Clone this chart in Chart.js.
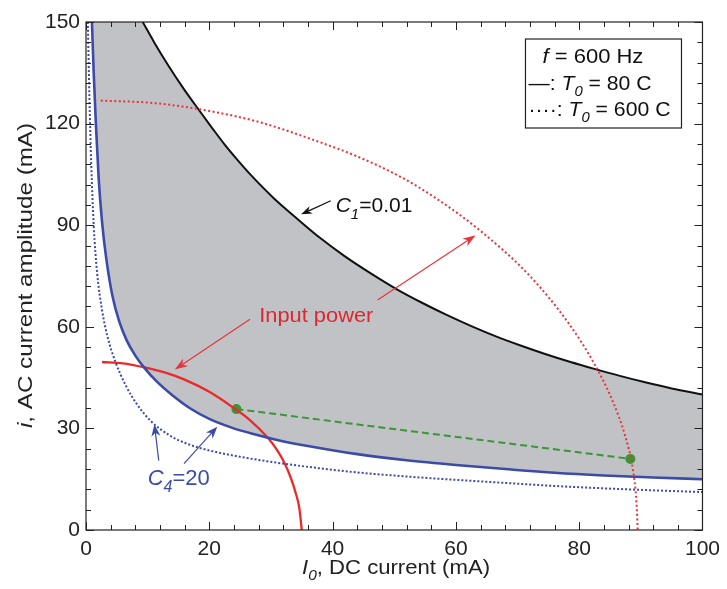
<!DOCTYPE html>
<html>
<head>
<meta charset="utf-8">
<script src="https://cdn.jsdelivr.net/npm/chart.js@4.4.1/dist/chart.umd.min.js"></script>
<style>
  html, body { margin: 0; padding: 0; background: #fff; }
  #wrap { width: 727px; height: 589px; }
</style>
</head>
<body>
<div id="wrap"><canvas id="c" width="727" height="589"></canvas></div>
<script>
// ---- data (x = I0 in mA, y = i in mA) ----
const xTicks = [0, 20, 40, 60, 80, 100];
const yTicks = [0, 30, 60, 90, 120, 150];

// C1 = 0.01 boundary, T0 = 80 C (black solid)
const c1T80 = [[9.2,150],[11,144.2],[13.3,137.3],[15.8,130.4],[18.2,124.3],[20.5,118.6],[22.5,113.8],[24.7,109],[26.8,104.7],[30.5,97.9],[34.2,92],[38,86.2],[42,80.8],[46,76],[50.5,71],[54.5,67.1],[58.5,63.5],[62.5,60.2],[66.6,57.1],[70.6,54.4],[74.6,51.9],[78.6,49.6],[82.6,47.5],[86.6,45.5],[90.7,43.6],[95,41.8],[100,40]];
// C4 = 20 boundary, T0 = 80 C (blue solid)
const c4T80 = [[0.96,150],[1.25,135],[1.6,120],[2.05,104],[2.6,91],[3.3,80],[4.3,69],[5.4,61.5],[6.6,56],[8,51.5],[9.5,47.8],[11.5,43.8],[14,39.8],[17,35.8],[20,32.8],[23.5,30.3],[27,28.4],[31,26.6],[36,24.8],[44,22.4],[52,20.6],[60,19.2],[68,18],[76,16.9],[84,16.1],[92,15.5],[100,15]];
// C4 = 20 boundary, T0 = 600 C (blue dotted)
const c4T600 = [[0.3,150],[0.55,128],[0.85,108],[1.25,90],[1.8,76],[2.6,65],[3.5,57],[4.8,49.5],[6.5,42.5],[8.2,37.3],[10.5,32.2],[13.5,28],[16.5,25.4],[20,23.5],[26,21.3],[32,19.6],[38,18.2],[44,17],[52,15.8],[60,14.8],[68,13.9],[76,13],[88,12],[100,11.2]];
// input power, low (red solid)
const powerLow = [[2.6,49.6],[6,49.2],[9.5,48],[13,46.4],[16,44.4],[20,40.8],[23.6,36.5],[26.5,32.6],[29.6,27],[31,23.6],[32.2,19.8],[33.2,15.5],[34,11],[34.6,6.5],[35,0]];
// input power, high (red dotted)
const powerHigh = [[2.4,126.8],[10.8,126.1],[18.2,124.3],[27.8,120.6],[37.5,114.8],[44,110.3],[51,104.3],[56.9,97.8],[63.8,88.6],[71.9,75.2],[78.3,61],[82.6,48.6],[85.4,38.2],[87.5,27.5],[88.7,18],[89.3,8],[89.5,0]];
// operating path (green dashed)
const opPath = [[24.4,35.7],[88.3,21]];

const FONT = "'Liberation Sans', Arial, Helvetica, sans-serif";
const pts = a => a.map(([x, y]) => ({ x, y }));

// shaded region: along blue curve, then back along black curve to the top edge
const region = pts(c4T80).concat(pts(c1T80.slice().reverse())).concat([{ x: c4T80[0][0], y: 150 }]);

function richWidth(ctx, parts, size) {
    let w = 0;
    parts.forEach(p => {
        const s = p.sub ? Math.round(size * 0.72) : size;
        ctx.font = (p.it ? 'italic ' : '') + s + 'px ' + FONT;
        w += ctx.measureText(p.t).width;
    });
    return w;
}
// draws text parts (italic / subscript) starting at x, stretched sideways by sx
function rich(ctx, parts, x, y, size, sx = 1) {
    ctx.save();
    ctx.translate(x, y);
    ctx.scale(sx, 1);
    let cx = 0;
    parts.forEach(p => {
        const s = p.sub ? Math.round(size * 0.72) : size;
        ctx.font = (p.it ? 'italic ' : '') + s + 'px ' + FONT;
        ctx.fillText(p.t, cx, p.sub ? size * 0.32 : 0);
        cx += ctx.measureText(p.t).width;
    });
    ctx.restore();
}
function arrow(ctx, x1, y1, x2, y2, color, lw, hl, hw) {
    const a = Math.atan2(y2 - y1, x2 - x1), c = Math.cos(a), s = Math.sin(a);
    ctx.strokeStyle = color; ctx.fillStyle = color; ctx.lineWidth = lw;
    ctx.beginPath();
    ctx.moveTo(x1, y1);
    ctx.lineTo(x2 - c * hl * 0.7, y2 - s * hl * 0.7);
    ctx.stroke();
    ctx.beginPath();
    ctx.moveTo(x2, y2);
    ctx.lineTo(x2 - c * hl - s * hw, y2 - s * hl + c * hw);
    ctx.lineTo(x2 - c * hl * 0.7, y2 - s * hl * 0.7);
    ctx.lineTo(x2 - c * hl + s * hw, y2 - s * hl - c * hw);
    ctx.closePath();
    ctx.fill();
}

const decor = {
    id: 'decor',
    afterDraw(chart) {
        const ctx = chart.ctx, ca = chart.chartArea;
        const X = chart.scales.x, Y = chart.scales.y;
        const px = v => X.getPixelForValue(v), py = v => Y.getPixelForValue(v);
        ctx.save();

        // frame
        ctx.strokeStyle = '#222'; ctx.lineWidth = 1.2;
        ctx.strokeRect(ca.left, ca.top, ca.right - ca.left, ca.bottom - ca.top);

        // inward ticks on all four sides
        ctx.beginPath();
        for (let v = 0; v <= 100; v += 4) {
            const L = v % 20 === 0 ? 8 : 5, x = Math.round(px(v)) + 0.5;
            ctx.moveTo(x, ca.bottom); ctx.lineTo(x, ca.bottom - L);
            ctx.moveTo(x, ca.top); ctx.lineTo(x, ca.top + L);
        }
        for (let v = 0; v <= 150; v += 6) {
            const L = v % 30 === 0 ? 8 : 5, y = Math.round(py(v)) + 0.5;
            ctx.moveTo(ca.left, y); ctx.lineTo(ca.left + L, y);
            ctx.moveTo(ca.right, y); ctx.lineTo(ca.right - L, y);
        }
        ctx.lineWidth = 1; ctx.stroke();

        // axis titles
        ctx.fillStyle = '#222'; ctx.textBaseline = 'alphabetic'; ctx.textAlign = 'left';
        const xt = [{ t: 'I', it: true }, { t: '0', it: true, sub: true }, { t: ', DC current (mA)' }];
        const xs = 188 / richWidth(ctx, xt, 20);
        rich(ctx, xt, 302, 574, 20, xs);

        const yt = [{ t: 'i', it: true }, { t: ', AC current amplitude (mA)' }];
        const ys = 305 / richWidth(ctx, yt, 20);
        ctx.save();
        ctx.translate(32, 276);
        ctx.rotate(-Math.PI / 2);
        rich(ctx, yt, -152, 0, 20, ys);
        ctx.restore();

        // legend box
        const bx = ca.right - 177, by = ca.top + 17;
        ctx.fillStyle = '#fff'; ctx.fillRect(bx, by, 156, 89);
        ctx.strokeStyle = '#222'; ctx.lineWidth = 1.2; ctx.strokeRect(bx, by, 156, 89);
        ctx.fillStyle = '#111';
        rich(ctx, [{ t: 'f', it: true }, { t: ' = 600 Hz' }], bx + 17, by + 24, 20, 1.1);
        rich(ctx, [{ t: '—: ' }, { t: 'T', it: true }, { t: '0', it: true, sub: true }, { t: ' = 80 C' }], bx + 3, by + 51, 20, 1.06);
        rich(ctx, [{ t: '····: ' }, { t: 'T', it: true }, { t: '0', it: true, sub: true }, { t: ' = 600 C' }], bx + 3, by + 77, 20, 1.06);

        // C1 annotation
        ctx.fillStyle = '#111';
        rich(ctx, [{ t: 'C', it: true }, { t: '1', it: true, sub: true }, { t: '=0.01' }], px(40.5), py(93.9), 21);
        arrow(ctx, px(39.7), py(97.2), px(34.9), py(93.2), '#111', 1.2, 11, 4);

        // input power annotation
        ctx.fillStyle = '#e0262c';
        rich(ctx, [{ t: 'Input power' }], px(28.1), py(61.4), 21, 1.04);
        arrow(ctx, px(47.3), py(67.9), px(63.2), py(87), '#e8343a', 1.2, 13, 4.5);
        arrow(ctx, px(26.6), py(62.2), px(14.4), py(47.4), '#e8343a', 1.2, 13, 4.5);

        // C4 annotation
        ctx.fillStyle = '#3c4aa8';
        rich(ctx, [{ t: 'C', it: true }, { t: '4', it: true, sub: true }, { t: '=20' }], px(10), py(13.3), 22);
        arrow(ctx, px(11.8), py(20.5), px(11.1), py(31.2), '#3c4aa8', 1.2, 12, 4.5);
        arrow(ctx, px(15.9), py(19.6), px(21.3), py(30.5), '#3c4aa8', 1.2, 12, 4.5);

        ctx.restore();
    }
};

const curve = { showLine: true, pointRadius: 0, fill: false, cubicInterpolationMode: 'monotone' };

new Chart(document.getElementById('c'), {
    type: 'scatter',
    data: {
        datasets: [
            { data: region, showLine: true, borderWidth: 0, borderColor: 'rgba(0,0,0,0)', backgroundColor: '#c0c2c6', fill: 'shape', pointRadius: 0, tension: 0 },
            { ...curve, data: pts(powerHigh), borderColor: '#e8343a', borderWidth: 2, borderDash: [2, 2.5] },
            { ...curve, data: pts(c4T600), borderColor: '#3c4aa8', borderWidth: 2, borderDash: [2, 2] },
            { ...curve, data: pts(c1T80), borderColor: '#111', borderWidth: 2 },
            { ...curve, data: pts(c4T80), borderColor: '#3c4aa8', borderWidth: 2.6 },
            { ...curve, data: pts(powerLow), borderColor: '#ea2a2a', borderWidth: 2.3 },
            { data: pts(opPath), showLine: true, borderColor: '#3a9636', borderWidth: 2, borderDash: [7, 4], pointRadius: 4, pointBackgroundColor: '#3a9636', pointBorderColor: '#3a9636', fill: false }
        ]
    },
    options: {
        responsive: false,
        animation: false,
        events: [],
        layout: { padding: { top: 22, right: 19, left: 0, bottom: 0 } },
        plugins: {
            legend: { display: false },
            tooltip: { enabled: false },
            filler: { drawTime: 'beforeDatasetsDraw' }
        },
        scales: {
            x: {
                type: 'linear', min: 0, max: 100,
                grid: { display: false, drawTicks: false },
                border: { display: false },
                afterBuildTicks: s => { s.ticks = xTicks.map(v => ({ value: v })); },
                afterFit: s => { s.height = 59; },
                ticks: { padding: 7, color: '#222', font: { family: FONT, size: 21 }, maxRotation: 0 }
            },
            y: {
                type: 'linear', min: 0, max: 150,
                grid: { display: false, drawTicks: false },
                border: { display: false },
                afterBuildTicks: s => { s.ticks = yTicks.map(v => ({ value: v })); },
                afterFit: s => { s.width = 86; },
                ticks: { padding: 6, color: '#222', font: { family: FONT, size: 21 } }
            }
        }
    },
    plugins: [decor]
});
</script>
</body>
</html>
